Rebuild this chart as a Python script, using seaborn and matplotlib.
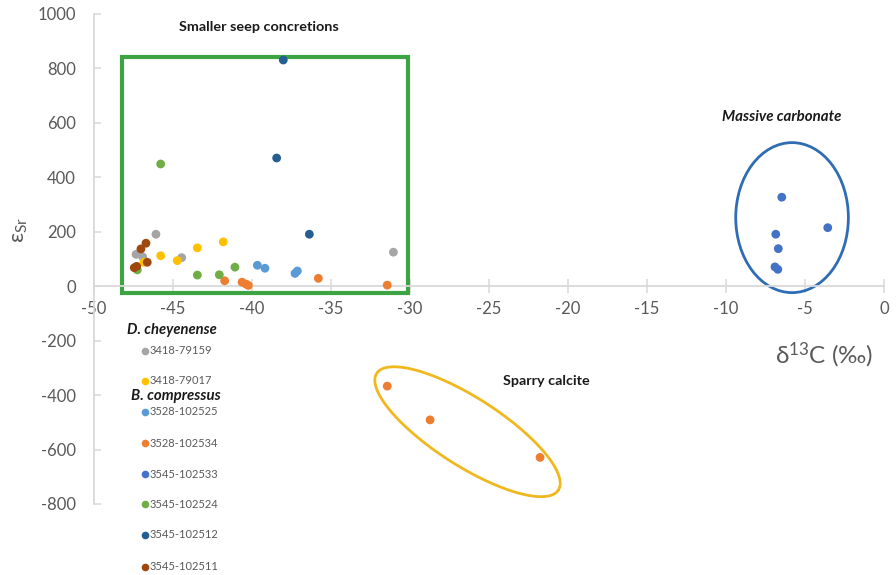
import numpy as np
import pandas as pd
import matplotlib
matplotlib.use("Agg")
import matplotlib.pyplot as plt
import seaborn as sns
from matplotlib.patches import Ellipse, Rectangle
from matplotlib.lines import Line2D

# ---------------- data ----------------
series_names = ["3418-79159", "3418-79017", "3528-102525", "3528-102534",
                "3545-102533", "3545-102524", "3545-102512", "3545-102511"]
series_colors = ["#A5A5A5", "#FFC000", "#5B9BD5", "#ED7D31",
                 "#4472C4", "#70AD47", "#255E91", "#9E480E"]

x_79159 = [-46.08, -47.34, -46.92, -44.45, -31.05]
y_79159 = [191, 117, 108, 105, 125]

x_79017 = [-45.78, -46.84, -44.73, -43.46, -41.82]
y_79017 = [112, 88, 94, 141, 163]

x_102525 = [-39.66, -39.18, -37.28, -37.13]
y_102525 = [77, 66, 47, 56]

x_102534 = [-41.73, -40.63, -40.38, -40.23, -35.80, -31.44, -31.44, -28.73, -21.77]
y_102534 = [20, 15, 8, 3, 29, 4, -367, -491, -629]

x_102533 = [-6.47, -3.56, -6.85, -6.69, -6.90, -6.72]
y_102533 = [327, 215, 191, 138, 71, 62]

x_102524 = [-45.78, -43.46, -42.07, -41.08, -47.26]
y_102524 = [449, 41, 42, 70, 60]

x_102512 = [-38.02, -38.44, -36.37]
y_102512 = [831, 471, 191]

x_102511 = [-46.71, -47.03, -46.63, -47.45, -47.30]
y_102511 = [158, 137, 88, 68, 73]

xs = [x_79159, x_79017, x_102525, x_102534, x_102533, x_102524, x_102512, x_102511]
ys = [y_79159, y_79017, y_102525, y_102534, y_102533, y_102524, y_102512, y_102511]

x_ticks = list(range(-50, 1, 5))
y_ticks = list(range(-800, 1001, 200))

df = pd.DataFrame({
    "d13C": np.concatenate(xs),
    "eSr": np.concatenate(ys),
    "sample": np.concatenate([[n] * len(x) for n, x in zip(series_names, xs)]),
})

# ---------------- style ----------------
sns.set_theme(style="white")
plt.rcParams["font.family"] = ["Lato", "DejaVu Sans"]
plt.rcParams["axes.unicode_minus"] = False
plt.rcParams["mathtext.fontset"] = "dejavusans"

W, H = 896, 575
fig = plt.figure(figsize=(W / 100, H / 100), dpi=100)
ax = fig.add_axes([94 / W, 71 / H, 790 / W, 490 / H])

sns.scatterplot(data=df, x="d13C", y="eSr", hue="sample",
                hue_order=series_names, palette=series_colors,
                s=40, linewidth=0, legend=False, ax=ax, zorder=3)

ax.set_xlim(-50, 0)
ax.set_ylim(-800, 1000)
ax.set_xticks(x_ticks)
ax.set_yticks(y_ticks)

axis_col = "#D9D9D9"
txt_col = "#595959"
for s in ["top", "right"]:
    ax.spines[s].set_visible(False)
ax.spines["bottom"].set_position(("data", 0))
for s in ["bottom", "left"]:
    ax.spines[s].set_color(axis_col)
    ax.spines[s].set_linewidth(1.3)

ax.tick_params(axis="x", direction="inout", length=10, width=1.1, color=axis_col,
               labelcolor=txt_col, labelsize=12, pad=6)
ax.tick_params(axis="y", direction="in", length=5, width=1.1, color=axis_col,
               labelcolor=txt_col, labelsize=12, pad=13)
ax.tick_params(bottom=True, left=True)

ax.set_xlabel(r"$\mathregular{\delta^{13}}$C (‰)", fontsize=17.5, color=txt_col)
ax.xaxis.set_label_coords((824.5 - 94) / 790, (504 - 355) / 490)
ax.xaxis.label.set_va("center")
ax.set_ylabel(r"$\mathregular{\varepsilon_{Sr}}$", fontsize=16, color=txt_col)
ax.yaxis.set_label_coords((20 - 94) / 790, (504 - 230) / 490)
ax.yaxis.label.set_va("center")

# ---------------- annotations ----------------
ax.add_patch(Rectangle((-48.21, -24), 18.10, 867, fill=False,
                       edgecolor="#3DA444", linewidth=3, zorder=2))
ax.add_patch(Ellipse((-5.82, 252), 7.13, 551, fill=False,
                     edgecolor="#2E6DB4", linewidth=2, zorder=2))
# rotated ellipse around sparry calcite
t = np.linspace(0, 2 * np.pi, 300)
cx, cy = -26.36, -534.5
ex = cx + 5.75 * np.cos(t) + 1.16 * np.sin(t)
ey = cy - 214.2 * np.cos(t) + 105.1 * np.sin(t)
ax.plot(ex, ey, color="#F0B81E", linewidth=2, zorder=2)

ax.text(-39.56, 952, "Smaller seep concretions", ha="center", va="center",
        fontsize=10.4, fontweight="bold", color="#1A1A1A")
ax.text(-6.46, 623, "Massive carbonate", ha="center", va="center",
        fontsize=10.8, fontweight="bold", fontstyle="italic", color="#1A1A1A")
ax.text(-21.37, -347, "Sparry calcite", ha="center", va="center",
        fontsize=10.4, fontweight="bold", color="#1A1A1A")

# ---------------- legend (custom) ----------------
def fx(px):
    return px / W

def fy(py):
    return 1 - py / H

fig.text(fx(126.7), fy(330), "D. cheyenense", ha="left", va="center",
         fontsize=10.6, fontweight="bold", fontstyle="italic", color="#1A1A1A")
fig.text(fx(130.7), fy(396), "B. compressus", ha="left", va="center",
         fontsize=10.8, fontweight="bold", fontstyle="italic", color="#1A1A1A")
leg_y = [350.7, 381, 411.7, 443.3, 474, 504, 535, 566.7]
for name, col, py in zip(series_names, series_colors, leg_y):
    fig.add_artist(Line2D([fx(145)], [fy(py)], marker="o", markersize=5.5,
                          markerfacecolor=col, markeredgewidth=0,
                          linestyle="none", transform=fig.transFigure))
    fig.text(fx(149.5), fy(py), name, ha="left", va="center",
             fontsize=8, color=txt_col)

fig.savefig("out.png", dpi=100)
